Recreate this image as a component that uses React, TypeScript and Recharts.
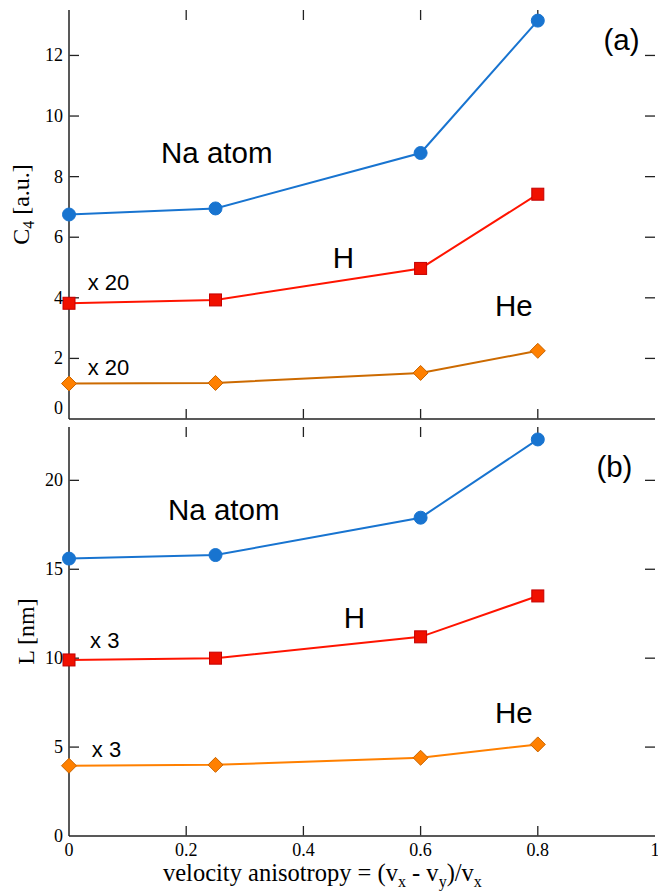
import React from "react";
import { LineChart, Line, XAxis, YAxis, ReferenceDot, ReferenceLine } from "recharts";

// velocity anisotropy values (shared by both panels)
const ANISOTROPY = [0, 0.25, 0.6, 0.8];
const X_TICKS = [0, 0.2, 0.4, 0.6, 0.8, 1];

// panel (a): C4 in a.u. (H and He already multiplied by 20)
const C4_NA = [6.75, 6.95, 8.78, 13.15];
const C4_H = [3.82, 3.93, 4.97, 7.42];
const C4_HE = [1.17, 1.19, 1.52, 2.25];
const C4_TICKS = [0, 2, 4, 6, 8, 10, 12];

// panel (b): L in nm (H and He already multiplied by 3)
const L_NA = [15.6, 15.8, 17.9, 22.3];
const L_H = [9.9, 10.0, 11.2, 13.5];
const L_HE = [3.95, 4.0, 4.4, 5.15];
const L_TICKS = [0, 5, 10, 15, 20];

const dataA = ANISOTROPY.map((x, i) => ({ x, na: C4_NA[i], h: C4_H[i], he: C4_HE[i] }));
const dataB = ANISOTROPY.map((x, i) => ({ x, na: L_NA[i], h: L_H[i], he: L_HE[i] }));

const BLUE = "#1874d0";
const RED = "#ff1400";
const ORANGE = "#ff8000";
const DARK_ORANGE = "#cc6a00";
const FRAME = "#222";
const SERIF = "'Liberation Serif', 'Times New Roman', serif";
const SANS = "'Liberation Sans', Arial, Helvetica, sans-serif";

const PLOT_W = 586; // px, both panels
const PLOT_H = 409; // px, both panels
const TICK_PX = 10;

function CircleDot(p: any) {
  if (p.cx == null) return null;
  return <circle key={p.index} cx={p.cx} cy={p.cy} r={6.5} fill={BLUE} stroke={BLUE} />;
}

function SquareDot(p: any) {
  if (p.cx == null) return null;
  return (
    <rect key={p.index} x={p.cx - 6} y={p.cy - 6} width={12} height={12}
      fill="#f01000" stroke="#c40000" strokeWidth={1} />
  );
}

function DiamondDot(p: any) {
  if (p.cx == null) return null;
  const { cx, cy } = p;
  const s = 7.5;
  return (
    <path key={p.index}
      d={`M${cx},${cy - s} L${cx + s},${cy} L${cx},${cy + s} L${cx - s},${cy} Z`}
      fill={ORANGE} stroke="#c86400" strokeWidth={1} />
  );
}

const noLabel = () => <g />;

function leftLabel(zeroLift = 0) {
  return (props: any) => {
    const v = props.payload.value;
    return (
      <text x={Number(props.x) - 6} y={Number(props.y) - (v === 0 ? zeroLift : 0) + 6} textAnchor="end"
        fontFamily={SERIF} fontSize={18} fill="#000">{String(v)}</text>
    );
  };
}

function bottomLabel(props: any) {
  return (
    <text x={Number(props.x)} y={Number(props.y) + 20} textAnchor="middle"
      fontFamily={SERIF} fontSize={18} fill="#000">{String(props.payload.value)}</text>
  );
}

// inward tick marks on all four sides, as short reference segments bound to
// the top / right frame axes (same domains as the main ones)
function frameTicks(yTicks: number[], yMax: number) {
  const dx = TICK_PX / PLOT_W;
  const dy = (TICK_PX / PLOT_H) * yMax;
  const inX = 0.6 / PLOT_W;
  const inY = (0.6 / PLOT_H) * yMax;
  const out: React.ReactNode[] = [];
  const st = {
    stroke: FRAME, strokeWidth: 1.3, xAxisId: "top", yAxisId: "r", ifOverflow: "visible" as const,
  };
  yTicks.forEach((v) => {
    if (v === 0) return;
    out.push(<ReferenceLine key={`l${v}`} segment={[{ x: inX, y: v }, { x: dx, y: v }]} {...st} />);
    out.push(<ReferenceLine key={`r${v}`} segment={[{ x: 1 - dx, y: v }, { x: 1, y: v }]} {...st} />);
  });
  X_TICKS.forEach((v) => {
    if (v === 0 || v === 1) return;
    out.push(<ReferenceLine key={`b${v}`} segment={[{ x: v, y: inY }, { x: v, y: dy }]} {...st} />);
    out.push(<ReferenceLine key={`t${v}`} segment={[{ x: v, y: yMax - dy }, { x: v, y: yMax }]} {...st} />);
  });
  return out;
}

function Note({ x, y, text, size = 29.5 }: { x: number; y: number; text: string; size?: number }) {
  return (
    <ReferenceDot x={x} y={y} r={0}
      shape={(p: any) => (
        <text x={p.cx} y={p.cy} fontFamily={SANS} fontSize={size} fill="#000">{text}</text>
      )} />
  );
}

function yTitle(main: string, sub: string | null, rest: string, baselineX: number, shift: number) {
  return (props: any) => {
    const vb = props.viewBox;
    const cy = vb.y + vb.height / 2 + shift;
    return (
      <text transform={`translate(${baselineX},${cy}) rotate(-90)`} textAnchor="middle"
        fontFamily={SERIF} fontSize={24} fill="#000">
        {main}
        {sub && <tspan fontSize={16} dy={5}>{sub}</tspan>}
        <tspan dy={sub ? -5 : 0}>{rest}</tspan>
      </text>
    );
  };
}

function xTitle(props: any) {
  const vb = props.viewBox;
  return (
    <text x={vb.x + 94} y={vb.y + 45} fontFamily={SERIF} fontSize={24.5} fill="#000">
      velocity anisotropy = (v
      <tspan fontSize={16} dy={6}>x</tspan>
      <tspan dy={-6}> - v</tspan>
      <tspan fontSize={16} dy={6}>y</tspan>
      <tspan dy={-6}>)/v</tspan>
      <tspan fontSize={16} dy={6}>x</tspan>
    </text>
  );
}

export default function App() {
  const frameLine = { stroke: FRAME, strokeWidth: 1.5 };
  const axisBits = { tickLine: false, tickSize: 0, tickMargin: 0, interval: 0 as const };
  return (
    <div style={{ position: "absolute", left: 0, top: 0, width: 658, height: 894, background: "#fff" }}>
      <div style={{ position: "absolute", left: 0, top: 0 }}>
        <LineChart width={658} height={430} data={dataA} margin={{ top: 10, right: 3, bottom: 0, left: 0 }}>
          <XAxis dataKey="x" type="number" domain={[0, 1]} ticks={X_TICKS} height={11}
            axisLine={frameLine} {...axisBits} tick={noLabel} />
          <XAxis xAxisId="top" dataKey="x" orientation="top" type="number" domain={[0, 1]} ticks={X_TICKS}
            height={0} allowDataOverflow axisLine={frameLine} {...axisBits} tick={noLabel} />
          <YAxis type="number" domain={[0, 13.5]} ticks={C4_TICKS} width={69}
            axisLine={frameLine} {...axisBits} tick={leftLabel(11)}
            label={{ content: yTitle("C", "4", " [a.u.]", 29, -10) }} />
          <YAxis yAxisId="r" orientation="right" type="number" domain={[0, 13.5]} ticks={C4_TICKS} width={0}
            allowDataOverflow axisLine={frameLine} {...axisBits} tick={noLabel} />
          {frameTicks(C4_TICKS, 13.5)}
          <Line dataKey="he" stroke={DARK_ORANGE} strokeWidth={2} dot={DiamondDot} isAnimationActive={false} />
          <Line dataKey="h" stroke={RED} strokeWidth={2} dot={SquareDot} isAnimationActive={false} />
          <Line dataKey="na" stroke={BLUE} strokeWidth={2} dot={CircleDot} isAnimationActive={false} />
          {Note({ x: 0.157, y: 8.45, text: "Na atom" })}
          {Note({ x: 0.45, y: 4.98, text: "H" })}
          {Note({ x: 0.727, y: 3.4, text: "He" })}
          {Note({ x: 0.032, y: 4.26, text: "x 20", size: 22 })}
          {Note({ x: 0.032, y: 1.45, text: "x 20", size: 22 })}
          {Note({ x: 0.912, y: 12.18, text: "(a)" })}
        </LineChart>
      </div>
      <div style={{ position: "absolute", left: 0, top: 420 }}>
        <LineChart width={658} height={474} data={dataB} margin={{ top: 7, right: 3, bottom: 0, left: 0 }}>
          <XAxis dataKey="x" type="number" domain={[0, 1]} ticks={X_TICKS} height={58}
            axisLine={frameLine} {...axisBits} tick={bottomLabel}
            label={{ content: xTitle }} />
          <XAxis xAxisId="top" dataKey="x" orientation="top" type="number" domain={[0, 1]} ticks={X_TICKS}
            height={0} allowDataOverflow axisLine={frameLine} {...axisBits} tick={noLabel} />
          <YAxis type="number" domain={[0, 23]} ticks={L_TICKS} width={69}
            axisLine={frameLine} {...axisBits} tick={leftLabel()}
            label={{ content: yTitle("L [nm]", null, "", 34, 0) }} />
          <YAxis yAxisId="r" orientation="right" type="number" domain={[0, 23]} ticks={L_TICKS} width={0}
            allowDataOverflow axisLine={frameLine} {...axisBits} tick={noLabel} />
          {frameTicks(L_TICKS, 23)}
          <Line dataKey="he" stroke={ORANGE} strokeWidth={2} dot={DiamondDot} isAnimationActive={false} />
          <Line dataKey="h" stroke={RED} strokeWidth={2} dot={SquareDot} isAnimationActive={false} />
          <Line dataKey="na" stroke={BLUE} strokeWidth={2} dot={CircleDot} isAnimationActive={false} />
          {Note({ x: 0.169, y: 17.77, text: "Na atom" })}
          {Note({ x: 0.469, y: 11.7, text: "H" })}
          {Note({ x: 0.727, y: 6.36, text: "He" })}
          {Note({ x: 0.036, y: 10.57, text: "x 3", size: 22 })}
          {Note({ x: 0.039, y: 4.44, text: "x 3", size: 22 })}
          {Note({ x: 0.9, y: 20.19, text: "(b)" })}
        </LineChart>
      </div>
    </div>
  );
}
